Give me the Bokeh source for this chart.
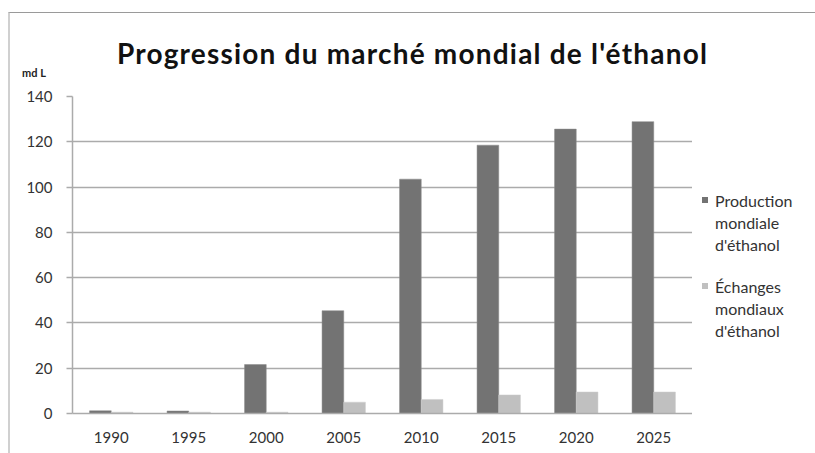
import html
from bokeh.plotting import figure
from bokeh.layouts import column, row
from bokeh.models import FactorRange, Range1d, Div, ColumnDataSource
from bokeh.transform import dodge
from bokeh.embed import file_html
from bokeh.resources import INLINE

years = ["1990", "1995", "2000", "2005", "2010", "2015", "2020", "2025"]
production = [1.2, 1.1, 21.6, 45.4, 103.5, 118.5, 125.6, 128.9]
echanges = [0.6, 0.6, 0.6, 5.0, 6.2, 8.2, 9.5, 9.5]
y_ticks = [0, 20, 40, 60, 80, 100, 120, 140]
title_text = "Progression du marché mondial de l'éthanol"
unit_text = "md L"
series_names = [["Production", "mondiale", "d'éthanol"], ["Échanges", "mondiaux", "d'éthanol"]]
series_colors = ["#737373", "#c0c0c0"]

FONT = "Lato"
TXT = "#333333"
GRID = "#ababab"

src = ColumnDataSource(dict(year=years, production=production, echanges=echanges))

p = figure(x_range=FactorRange(factors=years, range_padding=0), y_range=Range1d(0, 140),
           width=682, height=373, output_backend="svg", toolbar_location=None,
           min_border_left=62, min_border_right=0, min_border_top=16, min_border_bottom=40)
p.outline_line_color = None
p.title = None

p.vbar(x=dodge("year", -0.14, range=p.x_range), top="production", width=0.28, source=src,
       fill_color=series_colors[0], line_color="#8a8a8a", line_width=0.5)
p.vbar(x=dodge("year", 0.14, range=p.x_range), top="echanges", width=0.28, source=src,
       fill_color=series_colors[1], line_color="#cfcfcf", line_width=0.5)

p.xgrid.grid_line_color = None
p.ygrid.grid_line_color = GRID
p.ygrid.grid_line_width = 1.5
p.yaxis.ticker = y_ticks
for ax in (p.xaxis, p.yaxis):
    ax.axis_line_color = GRID
    ax.axis_line_width = 1.5
    ax.major_label_text_font = FONT
    ax.major_label_text_font_size = "15px"
    ax.major_label_text_color = TXT
    ax.minor_tick_line_color = None
p.yaxis.major_tick_line_color = GRID
p.yaxis.major_tick_line_width = 1.5
p.yaxis.major_tick_out = 6
p.yaxis.major_tick_in = 0
p.yaxis.major_label_standoff = 14
p.xaxis.major_tick_line_color = None
p.xaxis.major_label_standoff = 12

title_div = Div(
    text=(f'<div style="font-family:{FONT};font-size:28px;font-weight:bold;color:#111;'
          f'line-height:34px;padding-top:23px;padding-left:19px;width:786px;text-align:center;'
          f'letter-spacing:1.2px;white-space:nowrap">{html.escape(title_text)}</div>'
          f'<div style="font-family:{FONT};font-size:11px;font-weight:bold;color:#222;'
          f'line-height:13px;margin-top:-4px;margin-left:12px">{html.escape(unit_text)}</div>'),
    width=805, height=67, margin=0)

blocks = []
for i, (lines, col) in enumerate(zip(series_names, series_colors)):
    mt = 110 if i == 0 else 20
    mtop = 7 if i == 0 else 7
    blocks.append(
        f'<div style="position:relative;margin-top:{mt}px;padding-left:23px">'
        f'<span style="position:absolute;left:10px;top:{mtop}px;width:6px;height:6px;'
        f'background:{col}"></span>'
        + "<br>".join(html.escape(t) for t in lines) + '</div>')
legend_div = Div(
    text=(f'<div style="font-family:{FONT};font-size:16px;line-height:22px;color:{TXT};'
          f'white-space:nowrap">' + "".join(blocks) + '</div>'),
    width=123, height=373, margin=0)

layout = column(title_div, row(p, legend_div, spacing=0), spacing=0,
                styles={"border-top": "1px solid #9a9a9a", "border-left": "2px solid #d0d0d0",
                        "margin-top": "12px", "margin-left": "8px"})

open("out.html", "w").write(file_html(layout, INLINE))
